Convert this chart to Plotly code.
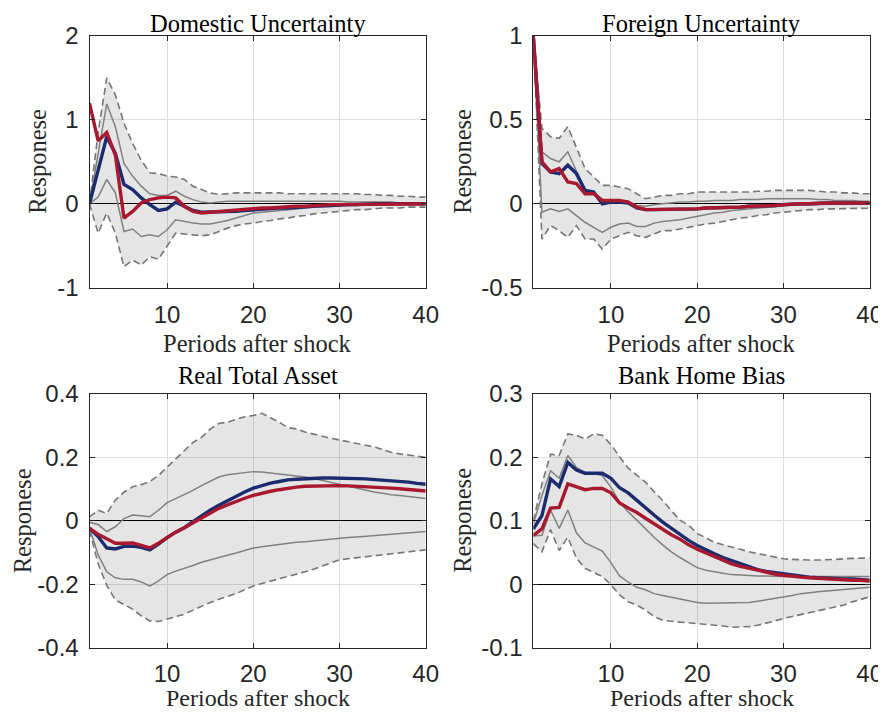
import plotly.graph_objects as go

# ---------------- data ----------------
periods = list(range(1, 41))

# Panel 1: Domestic Uncertainty
dom_blue = [0.00, 0.40, 0.80, 0.60, 0.23, 0.17, 0.07, -0.01, -0.08, -0.06,
            0.02, -0.03, -0.08, -0.10, -0.10, -0.10, -0.09, -0.09, -0.08, -0.07,
            -0.07, -0.06, -0.05, -0.05, -0.04, -0.03, -0.03, -0.02, -0.02, -0.01,
            -0.01, -0.01, 0.00, 0.00, 0.00, 0.00, 0.00, 0.00, 0.00, 0.00]
dom_red = [1.20, 0.75, 0.85, 0.58, -0.17, -0.09, 0.01, 0.05, 0.07, 0.08,
           0.07, -0.03, -0.09, -0.11, -0.10, -0.09, -0.08, -0.07, -0.07, -0.06,
           -0.05, -0.05, -0.04, -0.04, -0.03, -0.03, -0.02, -0.02, -0.01, -0.01,
           -0.01, 0.00, 0.00, 0.00, 0.00, 0.00, 0.00, 0.00, 0.00, 0.00]
dom_hi_out = [0.00, 0.85, 1.50, 1.30, 0.96, 0.72, 0.52, 0.37, 0.36, 0.33,
              0.32, 0.29, 0.21, 0.17, 0.13, 0.11, 0.12, 0.13, 0.13, 0.13,
              0.13, 0.13, 0.13, 0.12, 0.12, 0.12, 0.12, 0.12, 0.12, 0.12,
              0.12, 0.12, 0.11, 0.11, 0.10, 0.10, 0.09, 0.09, 0.08, 0.08]
dom_lo_out = [0.00, -0.35, -0.11, -0.35, -0.75, -0.67, -0.73, -0.63, -0.66, -0.51,
              -0.35, -0.36, -0.37, -0.38, -0.37, -0.33, -0.29, -0.26, -0.24, -0.23,
              -0.21, -0.20, -0.18, -0.17, -0.15, -0.14, -0.12, -0.11, -0.10, -0.09,
              -0.08, -0.07, -0.07, -0.06, -0.05, -0.05, -0.05, -0.04, -0.04, -0.04]
dom_hi_in = [0.00, 0.60, 1.19, 0.92, 0.48, 0.33, 0.21, 0.12, 0.10, 0.10,
             0.15, 0.09, 0.05, 0.02, 0.01, 0.02, 0.03, 0.03, 0.03, 0.03,
             0.03, 0.03, 0.03, 0.03, 0.03, 0.03, 0.03, 0.03, 0.03, 0.03,
             0.02, 0.02, 0.02, 0.02, 0.02, 0.02, 0.01, 0.01, 0.01, 0.01]
dom_lo_in = [0.00, 0.08, 0.29, 0.13, -0.33, -0.30, -0.39, -0.37, -0.39, -0.31,
             -0.19, -0.21, -0.23, -0.24, -0.24, -0.22, -0.20, -0.17, -0.14, -0.11,
             -0.10, -0.09, -0.08, -0.07, -0.06, -0.05, -0.04, -0.04, -0.03, -0.02,
             -0.02, -0.02, -0.01, -0.01, -0.01, -0.01, 0.00, 0.00, 0.00, 0.00]

# Panel 2: Foreign Uncertainty
for_blue = [1.00, 0.24, 0.19, 0.18, 0.23, 0.18, 0.08, 0.07, 0.00, 0.01,
            0.01, 0.005, -0.025, -0.035, -0.035, -0.035, -0.035, -0.03, -0.03, -0.03,
            -0.025, -0.025, -0.02, -0.02, -0.02, -0.015, -0.015, -0.01, -0.01, -0.005,
            0.00, 0.00, 0.00, 0.005, 0.005, 0.005, 0.005, 0.005, 0.005, 0.005]
for_red = [1.00, 0.25, 0.19, 0.21, 0.13, 0.12, 0.06, 0.06, 0.02, 0.02,
           0.02, 0.01, -0.02, -0.035, -0.035, -0.035, -0.035, -0.03, -0.03, -0.03,
           -0.025, -0.025, -0.02, -0.02, -0.02, -0.015, -0.015, -0.01, -0.01, -0.005,
           0.00, 0.00, 0.00, 0.005, 0.005, 0.005, 0.005, 0.005, 0.005, 0.005]
for_hi_out = [1.00, 0.45, 0.40, 0.39, 0.46, 0.34, 0.21, 0.16, 0.11, 0.11,
              0.10, 0.09, 0.06, 0.03, 0.04, 0.05, 0.05, 0.06, 0.06, 0.07,
              0.07, 0.07, 0.07, 0.07, 0.07, 0.07, 0.075, 0.075, 0.08, 0.08,
              0.08, 0.08, 0.08, 0.075, 0.07, 0.07, 0.065, 0.065, 0.06, 0.06]
for_lo_out = [1.00, -0.21, -0.13, -0.16, -0.20, -0.13, -0.21, -0.21, -0.27, -0.21,
              -0.19, -0.17, -0.19, -0.20, -0.18, -0.16, -0.16, -0.15, -0.14, -0.13,
              -0.12, -0.115, -0.105, -0.095, -0.085, -0.08, -0.07, -0.065, -0.055, -0.05,
              -0.045, -0.04, -0.035, -0.035, -0.03, -0.03, -0.03, -0.028, -0.027, -0.026]
for_hi_in = [1.00, 0.31, 0.27, 0.25, 0.31, 0.20, 0.08, 0.06, 0.02, 0.02,
             0.02, 0.015, -0.01, -0.015, -0.005, 0.00, 0.005, 0.01, 0.01, 0.015,
             0.015, 0.02, 0.02, 0.02, 0.025, 0.025, 0.025, 0.03, 0.03, 0.03,
             0.03, 0.03, 0.03, 0.025, 0.025, 0.02, 0.02, 0.02, 0.015, 0.015]
for_lo_in = [1.00, -0.05, -0.03, -0.045, -0.03, -0.07, -0.11, -0.14, -0.17, -0.14,
             -0.12, -0.115, -0.135, -0.135, -0.115, -0.105, -0.10, -0.095, -0.085, -0.075,
             -0.065, -0.055, -0.05, -0.04, -0.035, -0.03, -0.025, -0.02, -0.015, -0.01,
             -0.008, -0.006, -0.005, -0.004, -0.004, -0.003, -0.002, -0.001, 0.00, 0.00]

# Panel 3: Real Total Asset
ast_blue = [-0.024, -0.050, -0.086, -0.089, -0.081, -0.080, -0.084, -0.092, -0.074, -0.053,
            -0.036, -0.022, -0.003, 0.016, 0.033, 0.049, 0.064, 0.078, 0.091, 0.103,
            0.111, 0.119, 0.124, 0.129, 0.131, 0.133, 0.134, 0.135, 0.135, 0.135,
            0.134, 0.133, 0.132, 0.130, 0.129, 0.126, 0.124, 0.122, 0.118, 0.115]
ast_red = [-0.024, -0.043, -0.057, -0.071, -0.071, -0.070, -0.078, -0.086, -0.071, -0.052,
           -0.036, -0.022, -0.006, 0.010, 0.025, 0.039, 0.050, 0.061, 0.071, 0.080,
           0.087, 0.093, 0.098, 0.103, 0.106, 0.109, 0.110, 0.111, 0.111, 0.111,
           0.110, 0.109, 0.108, 0.106, 0.105, 0.103, 0.101, 0.099, 0.096, 0.094]
ast_hi_out = [0.012, 0.033, 0.023, 0.065, 0.090, 0.107, 0.114, 0.124, 0.143, 0.169,
              0.193, 0.221, 0.247, 0.263, 0.289, 0.307, 0.311, 0.320, 0.328, 0.332,
              0.339, 0.325, 0.311, 0.294, 0.290, 0.280, 0.273, 0.266, 0.260, 0.255,
              0.250, 0.245, 0.239, 0.233, 0.225, 0.216, 0.211, 0.207, 0.203, 0.200]
ast_lo_out = [-0.030, -0.136, -0.204, -0.250, -0.264, -0.279, -0.300, -0.316, -0.318, -0.310,
              -0.303, -0.295, -0.282, -0.269, -0.258, -0.248, -0.239, -0.230, -0.218, -0.206,
              -0.198, -0.191, -0.183, -0.175, -0.168, -0.161, -0.153, -0.144, -0.133, -0.123,
              -0.120, -0.116, -0.113, -0.110, -0.107, -0.104, -0.100, -0.097, -0.094, -0.092]
ast_hi_in = [-0.005, -0.012, -0.034, -0.019, 0.007, 0.018, 0.016, 0.013, 0.033, 0.057,
             0.070, 0.082, 0.096, 0.111, 0.124, 0.138, 0.145, 0.148, 0.153, 0.155,
             0.154, 0.151, 0.148, 0.145, 0.142, 0.138, 0.133, 0.127, 0.120, 0.114,
             0.107, 0.101, 0.096, 0.091, 0.087, 0.082, 0.080, 0.077, 0.073, 0.070]
ast_lo_in = [-0.024, -0.107, -0.161, -0.180, -0.185, -0.185, -0.193, -0.206, -0.190, -0.170,
             -0.159, -0.151, -0.141, -0.131, -0.123, -0.116, -0.109, -0.102, -0.094, -0.086,
             -0.082, -0.078, -0.074, -0.071, -0.068, -0.066, -0.063, -0.060, -0.057, -0.055,
             -0.053, -0.051, -0.049, -0.047, -0.045, -0.043, -0.040, -0.038, -0.036, -0.034]

# Panel 4: Bank Home Bias
hb_blue = [0.087, 0.108, 0.166, 0.154, 0.192, 0.180, 0.175, 0.175, 0.175, 0.167,
           0.152, 0.144, 0.132, 0.121, 0.109, 0.098, 0.088, 0.078, 0.069, 0.061,
           0.054, 0.048, 0.042, 0.037, 0.032, 0.027, 0.023, 0.020, 0.018, 0.016,
           0.014, 0.012, 0.011, 0.010, 0.009, 0.009, 0.008, 0.008, 0.007, 0.006]
hb_red = [0.077, 0.087, 0.120, 0.121, 0.158, 0.154, 0.149, 0.151, 0.151, 0.144,
          0.128, 0.120, 0.113, 0.104, 0.095, 0.086, 0.078, 0.071, 0.062, 0.055,
          0.049, 0.043, 0.037, 0.032, 0.028, 0.025, 0.021, 0.018, 0.016, 0.014,
          0.012, 0.011, 0.010, 0.009, 0.008, 0.007, 0.007, 0.006, 0.006, 0.005]
hb_hi_out = [0.100, 0.158, 0.205, 0.203, 0.237, 0.235, 0.229, 0.237, 0.235, 0.220,
             0.201, 0.183, 0.172, 0.161, 0.146, 0.132, 0.116, 0.101, 0.093, 0.080,
             0.073, 0.066, 0.062, 0.059, 0.055, 0.051, 0.048, 0.045, 0.042, 0.040,
             0.039, 0.038, 0.038, 0.038, 0.038, 0.039, 0.040, 0.041, 0.041, 0.041]
hb_lo_out = [0.064, 0.051, 0.086, 0.053, 0.074, 0.041, 0.025, 0.018, 0.012, -0.001,
             -0.017, -0.028, -0.033, -0.041, -0.051, -0.057, -0.059, -0.060, -0.061, -0.062,
             -0.063, -0.064, -0.066, -0.068, -0.068, -0.067, -0.065, -0.062, -0.058, -0.054,
             -0.051, -0.049, -0.046, -0.043, -0.040, -0.036, -0.033, -0.028, -0.024, -0.020]
hb_hi_in = [0.095, 0.140, 0.179, 0.167, 0.203, 0.184, 0.176, 0.175, 0.171, 0.153,
            0.129, 0.114, 0.101, 0.087, 0.074, 0.062, 0.051, 0.042, 0.034, 0.026,
            0.022, 0.019, 0.017, 0.015, 0.014, 0.013, 0.013, 0.013, 0.012, 0.012,
            0.012, 0.012, 0.012, 0.012, 0.012, 0.012, 0.012, 0.012, 0.012, 0.012]
hb_lo_in = [0.076, 0.077, 0.117, 0.088, 0.117, 0.081, 0.065, 0.059, 0.052, 0.034,
            0.013, 0.003, -0.005, -0.009, -0.015, -0.018, -0.021, -0.024, -0.027, -0.029,
            -0.030, -0.030, -0.030, -0.030, -0.030, -0.029, -0.027, -0.025, -0.022, -0.020,
            -0.018, -0.015, -0.013, -0.012, -0.011, -0.010, -0.008, -0.007, -0.006, -0.005]

titles = ["Domestic Uncertainty", "Foreign Uncertainty", "Real Total Asset", "Bank Home Bias"]
x_title = "Periods after shock"
y_title = "Responese"
x_ticks = [10, 20, 30, 40]
y_tick_vals = [[-1, 0, 1, 2], [-0.5, 0, 0.5, 1], [-0.4, -0.2, 0, 0.2, 0.4], [-0.1, 0, 0.1, 0.2, 0.3]]
y_tick_text = [["-1", "0", "1", "2"], ["-0.5", "0", "0.5", "1"],
               ["-0.4", "-0.2", "0", "0.2", "0.4"], ["-0.1", "0", "0.1", "0.2", "0.3"]]
y_ranges = [[-1, 2], [-0.5, 1], [-0.4, 0.4], [-0.1, 0.3]]

panels = [
    (dom_blue, dom_red, dom_hi_out, dom_lo_out, dom_hi_in, dom_lo_in),
    (for_blue, for_red, for_hi_out, for_lo_out, for_hi_in, for_lo_in),
    (ast_blue, ast_red, ast_hi_out, ast_lo_out, ast_hi_in, ast_lo_in),
    (hb_blue, hb_red, hb_hi_out, hb_lo_out, hb_hi_in, hb_lo_in),
]

# ---------------- layout geometry (screen pixels; page has an 8px body margin) ----------------
OFF = 8
W, H = 886 - OFF, 712 - OFF
px_x = [(89.5, 425.7), (533.3, 869.7), (89.5, 425.7), (533.3, 869.7)]
px_y = [(36, 287.7), (36, 287.7), (394, 647.5), (394, 647.5)]


def fx(p):
    return (p - OFF) / W


def fy(p):
    return 1 - (p - OFF) / H


BLUE = "#1c2b6e"
RED = "#a8182f"
BAND = "rgba(0,0,0,0.10)"
DASH_C = "rgb(118,118,118)"
SOLID_C = "rgb(128,128,128)"
AX_C = "#262626"
SERIF = "Liberation Serif, Times New Roman, serif"
SANS = "Liberation Sans, Arial, sans-serif"

fig = go.Figure()

for i, (blue, red, hi_o, lo_o, hi_i, lo_i) in enumerate(panels):
    xa = "x" if i == 0 else f"x{i+1}"
    ya = "y" if i == 0 else f"y{i+1}"
    # shaded band
    fig.add_trace(go.Scatter(x=periods + periods[::-1], y=hi_o + lo_o[::-1],
                             fill="toself", fillcolor=BAND, line=dict(width=0),
                             mode="lines", hoverinfo="skip", showlegend=False,
                             xaxis=xa, yaxis=ya))
    for series in (hi_o, lo_o):
        fig.add_trace(go.Scatter(x=periods, y=series, mode="lines",
                                 line=dict(color=DASH_C, width=1.6, dash="7px,4px"),
                                 showlegend=False, xaxis=xa, yaxis=ya))
    for series in (hi_i, lo_i):
        fig.add_trace(go.Scatter(x=periods, y=series, mode="lines",
                                 line=dict(color=SOLID_C, width=1.5),
                                 showlegend=False, xaxis=xa, yaxis=ya))
    fig.add_trace(go.Scatter(x=periods, y=blue, mode="lines",
                             line=dict(color=BLUE, width=3.4),
                             showlegend=False, xaxis=xa, yaxis=ya))
    fig.add_trace(go.Scatter(x=periods, y=red, mode="lines",
                             line=dict(color=RED, width=3.4),
                             showlegend=False, xaxis=xa, yaxis=ya))

layout = dict(width=W, height=H, margin=dict(l=0, r=0, t=0, b=0),
              paper_bgcolor="white", plot_bgcolor="white", showlegend=False)

annotations = []
ytitle_x = [38, 463, None, 463]
for i in range(4):
    xk = "xaxis" if i == 0 else f"xaxis{i+1}"
    yk = "yaxis" if i == 0 else f"yaxis{i+1}"
    xa = "x" if i == 0 else f"x{i+1}"
    ya = "y" if i == 0 else f"y{i+1}"
    x0, x1 = px_x[i]
    y0, y1 = px_y[i]
    layout[xk] = dict(domain=[fx(x0), fx(x1)], anchor=ya, range=[1, 40],
                      tickvals=x_ticks, ticktext=[str(v) for v in x_ticks],
                      showgrid=True, gridcolor="#dedede", gridwidth=1,
                      zeroline=False, showline=True, linecolor=AX_C, linewidth=1,
                      mirror="ticks", ticks="inside", ticklen=5, tickcolor=AX_C,
                      tickfont=dict(family=SANS, size=24, color=AX_C),
                      ticklabelstandoff=5, automargin=False)
    layout[yk] = dict(domain=[fy(y1), fy(y0)], anchor=xa, range=y_ranges[i],
                      tickvals=y_tick_vals[i], ticktext=y_tick_text[i],
                      showgrid=True, gridcolor="#dedede", gridwidth=1,
                      zeroline=True, zerolinecolor="black", zerolinewidth=1.2,
                      showline=True, linecolor=AX_C, linewidth=1,
                      mirror="ticks", ticks="inside", ticklen=5, tickcolor=AX_C,
                      tickfont=dict(family=SANS, size=24, color=AX_C),
                      ticklabelstandoff=5, automargin=False)
    cxp = (x0 + x1) / 2
    if i < 2:
        annotations.append(dict(text=titles[i], x=fx(cxp), y=1.0, xref="paper", yref="paper",
                                xanchor="center", yanchor="top", showarrow=False,
                                font=dict(family=SERIF, size=24.5, color="black")))
        annotations.append(dict(text=x_title, x=fx(cxp), y=fy(343), xref="paper", yref="paper",
                                xanchor="center", yanchor="middle", showarrow=False,
                                font=dict(family=SERIF, size=24.5, color=AX_C)))
    else:
        annotations.append(dict(text=titles[i], x=fx(cxp), y=fy(375), xref="paper", yref="paper",
                                xanchor="center", yanchor="middle", showarrow=False,
                                font=dict(family=SERIF, size=24.5, color="black")))
        annotations.append(dict(text=x_title, x=fx(cxp), y=0.0, xref="paper", yref="paper",
                                xanchor="center", yanchor="bottom", showarrow=False,
                                borderpad=0,
                                font=dict(family=SERIF, size=24, color=AX_C)))
    if ytitle_x[i] is None:
        annotations.append(dict(text=y_title, x=0.0, y=fy((y0 + y1) / 2),
                                xref="paper", yref="paper", xanchor="left", yanchor="middle",
                                textangle=-90, showarrow=False, borderpad=0,
                                font=dict(family=SERIF, size=24.5, color=AX_C)))
    else:
        annotations.append(dict(text=y_title, x=fx(ytitle_x[i]), y=fy((y0 + y1) / 2),
                                xref="paper", yref="paper", xanchor="center", yanchor="middle",
                                textangle=-90, showarrow=False,
                                font=dict(family=SERIF, size=24.5, color=AX_C)))

layout["annotations"] = annotations
fig.update_layout(**layout)

fig.write_html("out.html")
